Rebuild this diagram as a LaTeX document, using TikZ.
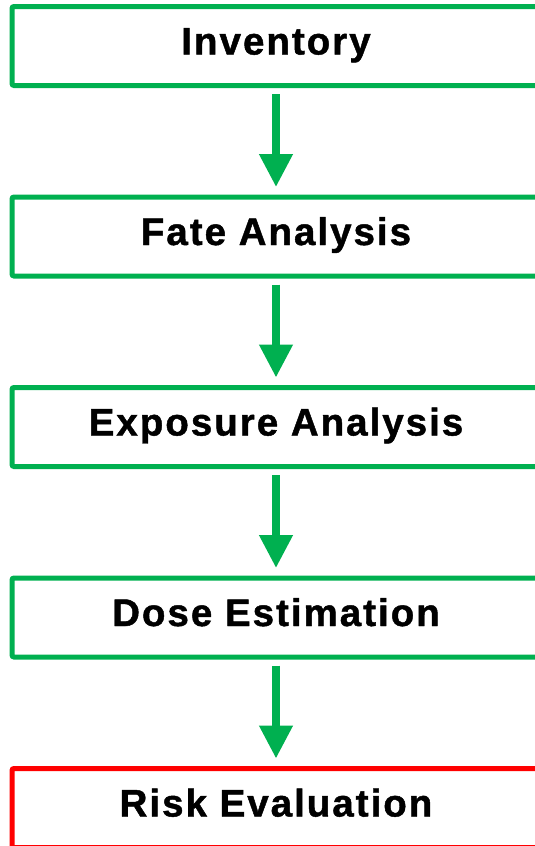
\documentclass[tikz,border=0pt]{standalone}
\usepackage{fontspec}
\setmainfont{Liberation Sans}
\usetikzlibrary{arrows.meta}
\definecolor{stepgreen}{RGB}{0,176,80}
\definecolor{stepred}{RGB}{255,0,0}
\tikzset{
  stagebox/.style={draw=stepgreen, line width=5pt, rounded corners=2pt,
    minimum width=528pt, minimum height=79pt, inner sep=0pt,
    text height=27pt, text depth=10pt,
    font=\fontsize{38.5}{42}\selectfont\bfseries\addfontfeature{LetterSpace=5.2,FakeBold=1.2}},
  flowarrow/.style={draw=stepgreen, line width=7.5pt,
    -{Triangle[width=32pt,length=33pt]}, shorten <=6pt, shorten >=7.5pt}
}
\begin{document}
\begin{tikzpicture}[x=1pt,y=-1pt]
\useasboundingbox (0,0) rectangle (535,846);
\node[stagebox] (inv) at (276,46) {Inventory};
\node[stagebox] (fate) at (276,236.5) {Fate Analysis};
\node[stagebox] (exp) at (276,427) {Exposure Analysis};
\node[stagebox] (dose) at (276,617.5) {Dose Estimation};
\node[stagebox, draw=stepred] (risk) at (276,808) {Risk Evaluation};
\draw[flowarrow] (inv.south) -- (fate.north);
\draw[flowarrow] (fate.south) -- (exp.north);
\draw[flowarrow] (exp.south) -- (dose.north);
\draw[flowarrow] (dose.south) -- (risk.north);
\end{tikzpicture}
\end{document}
